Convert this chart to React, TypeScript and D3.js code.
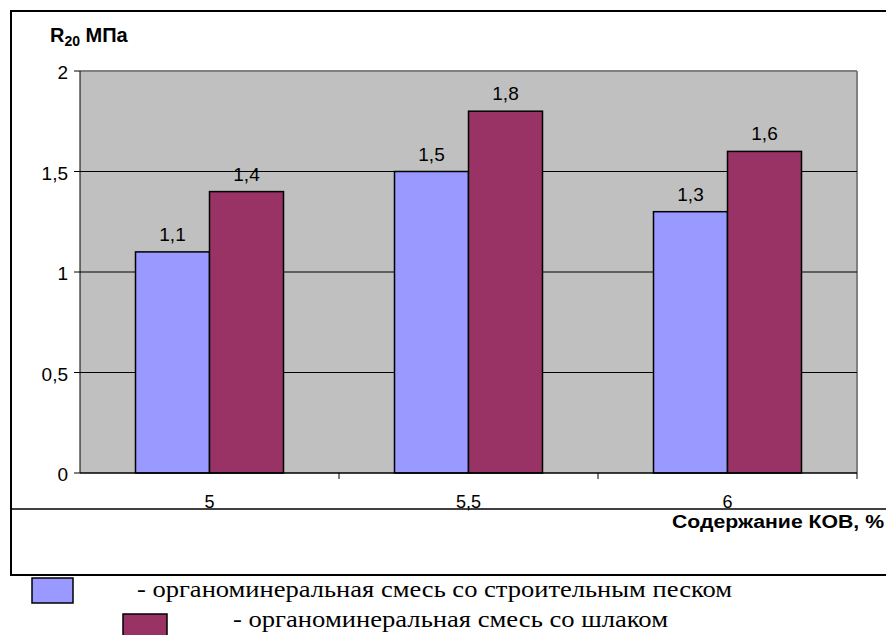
import React from "react";
import * as d3 from "d3";

const categories = ["5", "5,5", "6"];
const seriesNames = [
  "- органоминеральная смесь со строительным песком",
  "- органоминеральная смесь со шлаком",
];
const sandValues = [1.1, 1.5, 1.3];
const slagValues = [1.4, 1.8, 1.6];
const yTicks = [0, 0.5, 1, 1.5, 2];
const colors = ["#9999FF", "#993366"];

const fmt = (v: number) => String(v).replace(".", ",");

export default function App() {
  const W = 886, H = 635;
  const left = 80, right = 857, top = 71, bottom = 473;
  const x = d3.scaleBand<string>().domain(categories).range([left, right]).paddingInner(0).paddingOuter(0);
  const y = d3.scaleLinear().domain([0, 2]).range([bottom, top]);
  const barW = 74;
  const series = [sandValues, slagValues];
  const font = "'Liberation Sans', Arial, sans-serif";
  const serif = "'Liberation Serif', 'Times New Roman', serif";
  return (
    <svg width={W} height={H} style={{ position: "absolute", left: 0, top: 0, background: "#fff" }}>
      {/* outer frame */}
      <rect x={11} y={11} width={W} height={564} fill="#fff" stroke="#000" strokeWidth={2} />
      <line x1={11} x2={W} y1={509} y2={509} stroke="#000" strokeWidth={1.5} />
      {/* plot area */}
      <rect x={left} y={top} width={right - left} height={bottom - top} fill="#C0C0C0" />
      <line x1={left} x2={right} y1={top} y2={top} stroke="#808080" strokeWidth={2} />
      <line x1={right} x2={right} y1={top} y2={bottom} stroke="#808080" strokeWidth={2} />
      {yTicks.filter(t => t > 0 && t < 2).map(t => (
        <line key={t} x1={left} x2={right} y1={y(t)} y2={y(t)} stroke="#000" strokeWidth={1} />
      ))}
      {/* bars */}
      {categories.map((c, i) => {
        const cx = (x(c) as number) + x.bandwidth() / 2;
        return series.map((vals, s) => {
          const bx = cx - barW + s * barW;
          return (
            <g key={c + s}>
              <rect x={bx} y={y(vals[i])} width={barW} height={bottom - y(vals[i])} fill={colors[s]} stroke="#000" strokeWidth={1.5} />
              <text x={bx + barW / 2} y={y(vals[i]) - 11} textAnchor="middle" fontFamily={font} fontSize={19} fill="#000">{fmt(vals[i])}</text>
            </g>
          );
        });
      })}
      {/* axes */}
      <line x1={left} x2={left} y1={top} y2={bottom} stroke="#000" strokeWidth={1} />
      <line x1={left} x2={right} y1={bottom} y2={bottom} stroke="#000" strokeWidth={1.5} />
      {yTicks.map(t => (
        <g key={t}>
          <line x1={left - 6} x2={left} y1={y(t)} y2={y(t)} stroke="#000" />
          <text x={left - 12} y={y(t) + 8} textAnchor="end" fontFamily={font} fontSize={19}>{fmt(t)}</text>
        </g>
      ))}
      {categories.map((c, i) => (
        <g key={c}>
          <line x1={(x(c) as number) + x.bandwidth()} x2={(x(c) as number) + x.bandwidth()} y1={bottom} y2={bottom + 6} stroke="#000" />
          <text x={(x(c) as number) + x.bandwidth() / 2} y={508} textAnchor="middle" fontFamily={font} fontSize={18}>{c}</text>
        </g>
      ))}
      {/* titles */}
      <text x={50} y={42} fontFamily={font} fontSize={20} fontWeight="bold">
        R<tspan fontSize={14} dy={4}>20</tspan><tspan dy={-4}> МПа</tspan>
      </text>
      <text x={884} y={528} textAnchor="end" fontFamily={font} fontSize={18} fontWeight="bold" textLength={212} lengthAdjust="spacingAndGlyphs">Содержание КОВ, %</text>
      {/* legend */}
      <rect x={32} y={578} width={41} height={25} fill={colors[0]} stroke="#000" strokeWidth={1.5} />
      <text x={137} y={597} fontFamily={serif} fontSize={23} textLength={595} lengthAdjust="spacingAndGlyphs">{seriesNames[0]}</text>
      <rect x={123} y={614} width={44} height={30} fill={colors[1]} stroke="#000" strokeWidth={1.5} />
      <text x={233} y={627} fontFamily={serif} fontSize={23} textLength={435} lengthAdjust="spacingAndGlyphs">{seriesNames[1]}</text>
    </svg>
  );
}
